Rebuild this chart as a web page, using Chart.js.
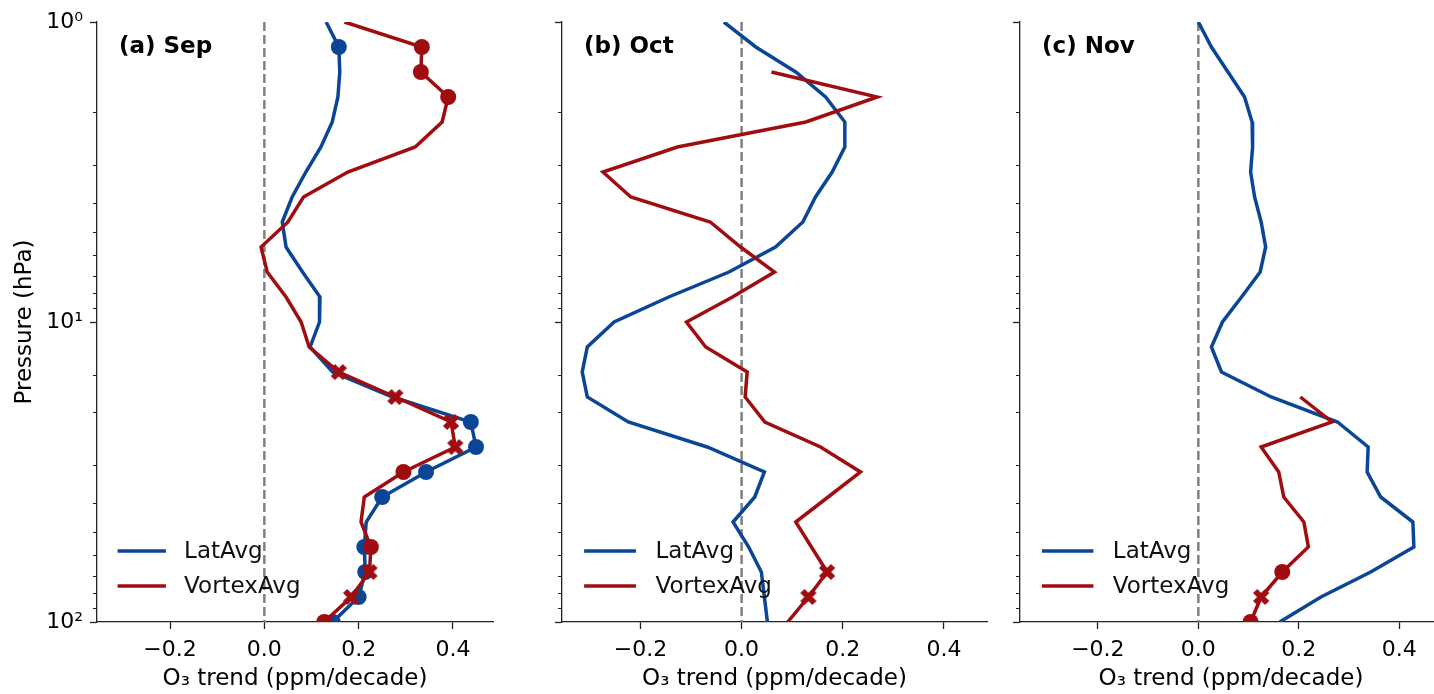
<!DOCTYPE html>
<html>
<head>
<meta charset="utf-8">
<script src="https://cdn.jsdelivr.net/npm/chart.js@4.4.1/dist/chart.umd.min.js"></script>
<style>
  html, body { margin: 0; padding: 0; background: #fff; overflow: hidden; width: 1434px; height: 694px; }
  canvas { position: absolute; top: 0; }
</style>
</head>
<body>
<canvas id="panelA" style="left:0px"></canvas>
<canvas id="panelB" style="left:520px"></canvas>
<canvas id="panelC" style="left:990px"></canvas>
<script>
// pressure levels (hPa), 12 per decade
const pressure = [1, 1.2115, 1.4678, 1.7783, 2.1544, 2.6102, 3.1623, 3.8312, 4.6416, 5.6234, 6.8129, 8.2540,
  10, 12.115, 14.678, 17.783, 21.544, 26.102, 31.623, 38.312, 46.416, 56.234, 68.129, 82.540, 100];

// O3 trend (ppm/decade)
const sepLat = [0.131, 0.158, 0.160, 0.156, 0.144, 0.120, 0.088, 0.059, 0.038, 0.046, 0.081, 0.118, 0.117,
  0.097, 0.145, 0.272, 0.438, 0.449, 0.343, 0.250, 0.216, 0.212, 0.214, 0.200, 0.145];
const sepVortex = [0.170, 0.334, 0.332, 0.390, 0.377, 0.320, 0.177, 0.083, 0.050, -0.007, 0.006, 0.046, 0.078,
  0.095, 0.158, 0.278, 0.396, 0.405, 0.295, 0.212, 0.205, 0.226, 0.223, 0.184, 0.127];
const octLat = [-0.035, 0.028, 0.107, 0.166, 0.204, 0.204, 0.179, 0.146, 0.121, 0.067, -0.025, -0.144, -0.252,
  -0.305, -0.315, -0.305, -0.224, -0.068, 0.045, 0.026, -0.017, 0.014, 0.039, 0.045, 0.051];
const octVortex = [null, null, 0.059, 0.268, 0.127, -0.127, -0.274, -0.219, -0.062, -0.002, 0.065, -0.018, -0.109,
  -0.071, 0.011, 0.007, 0.046, 0.156, 0.235, 0.171, 0.107, 0.138, 0.169, 0.132, 0.091];
const novLat = [0.000, 0.026, 0.059, 0.092, 0.107, 0.108, 0.104, 0.112, 0.125, 0.134, 0.123, 0.086, 0.048,
  0.026, 0.046, 0.145, 0.277, 0.338, 0.336, 0.363, 0.427, 0.429, 0.343, 0.244, 0.162];
const novVortex = [null, null, null, null, null, null, null, null, null, null, null, null, null,
  null, null, 0.203, 0.266, 0.125, 0.160, 0.170, 0.210, 0.219, 0.167, 0.125, 0.104];

// significance flags: 0 none, 1 cross, 2 dot
const sepLatSig = [0, 2, 0, 0, 0, 0, 0, 0, 0, 0, 0, 0, 0, 0, 0, 0, 2, 2, 2, 2, 0, 2, 2, 2, 2];
const sepVortexSig = [0, 2, 2, 2, 0, 0, 0, 0, 0, 0, 0, 0, 0, 0, 1, 1, 1, 1, 2, 0, 0, 2, 1, 1, 2];
const octLatSig = [0, 0, 0, 0, 0, 0, 0, 0, 0, 0, 0, 0, 0, 0, 0, 0, 0, 0, 0, 0, 0, 0, 0, 0, 0];
const octVortexSig = [0, 0, 0, 0, 0, 0, 0, 0, 0, 0, 0, 0, 0, 0, 0, 0, 0, 0, 0, 0, 0, 0, 1, 1, 0];
const novLatSig = [0, 0, 0, 0, 0, 0, 0, 0, 0, 0, 0, 0, 0, 0, 0, 0, 0, 0, 0, 0, 0, 0, 0, 0, 0];
const novVortexSig = [0, 0, 0, 0, 0, 0, 0, 0, 0, 0, 0, 0, 0, 0, 0, 0, 0, 0, 0, 0, 0, 0, 2, 1, 2];

const xTicks = [-0.2, 0, 0.2, 0.4];
const seriesNames = ['LatAvg', 'VortexAvg'];

const BLUE = '#0b4595';
const RED = '#a00d10';
const AXIS = '#222';
const FONT = '"DejaVu Sans", sans-serif';

function isDecade(v) {
  const e = Math.log10(v);
  return Math.abs(e - Math.round(e)) < 1e-9;
}

function crossMarker(color) {
  const c = document.createElement('canvas');
  c.width = 18; c.height = 18;
  const g = c.getContext('2d');
  g.strokeStyle = color;
  g.lineWidth = 6;
  g.beginPath();
  g.moveTo(3, 3); g.lineTo(15, 15);
  g.moveTo(15, 3); g.lineTo(3, 15);
  g.stroke();
  return c;
}

function series(label, values, sig, color, order) {
  const cross = crossMarker(color);
  return {
    label: label,
    data: values.map((v, i) => ({ x: v, y: pressure[i] })),
    borderColor: color,
    backgroundColor: color,
    borderWidth: 3.5,
    order: order,
    pointStyle: ctx => sig[ctx.dataIndex] === 1 ? cross : 'circle',
    pointRadius: ctx => sig[ctx.dataIndex] ? 8 : 0,
    pointBorderWidth: 0,
    spanGaps: false
  };
}

// small log ticks, shorter than the decade ticks
const minorTicks = {
  id: 'minorTicks',
  afterDraw(chart) {
    const s = chart.scales.y, g = chart.ctx;
    g.save();
    g.strokeStyle = AXIS;
    g.lineWidth = 1;
    s.ticks.forEach(t => {
      if (isDecade(t.value)) return;
      const py = Math.round(s.getPixelForValue(t.value)) + 0.5;
      g.beginPath(); g.moveTo(s.right - 4, py); g.lineTo(s.right, py); g.stroke();
    });
    g.restore();
  }
};

// panel label and legend inside the axes
const panelDecor = {
  id: 'panelDecor',
  afterDatasetsDraw(chart, args, opts) {
    const { left, right, top, bottom } = chart.chartArea;
    const w = right - left, g = chart.ctx;
    g.save();
    g.textBaseline = 'middle';
    g.fillStyle = '#000';
    g.font = 'bold 23px ' + FONT;
    g.fillText(opts.label, left + 22, top + 25);
    g.font = '23px ' + FONT;
    chart.data.datasets.filter(d => seriesNames.includes(d.label)).forEach((d, i) => {
      const ly = bottom - 71 + i * 35;
      g.strokeStyle = d.borderColor;
      g.lineWidth = 3.5;
      g.beginPath(); g.moveTo(left + 0.052 * w, ly); g.lineTo(left + 0.174 * w, ly); g.stroke();
      g.fillStyle = '#111';
      g.fillText(d.label, left + 0.22 * w, ly + 1);
    });
    g.restore();
  }
};

function makePanel(id, cfg) {
  const canvas = document.getElementById(id);
  canvas.width = cfg.width;
  canvas.height = 694;
  const sup = ['\u2070', '\u00b9', '\u00b2'];
  return new Chart(canvas, {
    type: 'line',
    data: {
      datasets: [
        series(seriesNames[0], cfg.lat, cfg.latSig, BLUE, 1),
        series(seriesNames[1], cfg.vortex, cfg.vortexSig, RED, 0),
        {
          label: 'zero',
          data: [{ x: 0, y: 1 }, { x: 0, y: 100 }],
          borderColor: '#808080',
          borderWidth: 2.5,
          borderDash: [9, 4],
          pointRadius: 0,
          order: 2
        }
      ]
    },
    options: {
      responsive: false,
      animation: false,
      events: [],
      indexAxis: 'y',
      layout: { padding: { top: 22, right: cfg.padRight, left: 0, bottom: 0 } },
      plugins: {
        legend: { display: false },
        tooltip: { enabled: false },
        panelDecor: { label: cfg.label }
      },
      scales: {
        x: {
          type: 'linear',
          min: -0.355,
          max: 0.485,
          afterBuildTicks: s => { s.ticks = xTicks.map(v => ({ value: v })); },
          afterFit: s => { s.height = 72; },
          border: { display: true, color: AXIS, width: 1.3 },
          grid: { drawOnChartArea: false, drawTicks: true, tickLength: 7, tickColor: AXIS, tickWidth: 1.3 },
          ticks: {
            autoSkip: false, maxRotation: 0, padding: 8, color: '#000',
            font: { family: FONT, size: 22 },
            callback: v => (v < 0 ? '\u2212' : '') + Math.abs(v).toFixed(1)
          },
          title: {
            display: true, text: 'O\u2083 trend (ppm/decade)', color: '#000',
            font: { family: FONT, size: 23 }, padding: { top: 0, bottom: 1 }
          }
        },
        y: {
          type: 'logarithmic',
          min: 1,
          max: 100,
          reverse: true,
          afterFit: s => { s.width = cfg.yWidth; },
          border: { display: true, color: AXIS, width: 1.3 },
          grid: {
            drawOnChartArea: false, drawTicks: true, tickLength: 7, tickWidth: 1.3,
            tickColor: ctx => ctx.tick && isDecade(ctx.tick.value) ? AXIS : 'rgba(0,0,0,0)'
          },
          ticks: {
            autoSkip: false, padding: 7, color: '#000',
            font: { family: FONT, size: 22 },
            callback: v => cfg.yLabels && isDecade(v) ? '10' + sup[Math.round(Math.log10(v))] : ''
          },
          title: {
            display: cfg.yLabels, text: 'Pressure (hPa)', color: '#000',
            font: { family: FONT, size: 23 }, padding: { top: 11, bottom: 0 }
          }
        }
      }
    },
    plugins: [minorTicks, panelDecor]
  });
}

makePanel('panelA', { width: 520, yWidth: 97, padRight: 27, yLabels: true, label: '(a) Sep',
  lat: sepLat, latSig: sepLatSig, vortex: sepVortex, vortexSig: sepVortexSig });
makePanel('panelB', { width: 470, yWidth: 42, padRight: 3, yLabels: false, label: '(b) Oct',
  lat: octLat, latSig: octLatSig, vortex: octVortex, vortexSig: octVortexSig });
makePanel('panelC', { width: 460, yWidth: 30, padRight: 6, yLabels: false, label: '(c) Nov',
  lat: novLat, latSig: novLatSig, vortex: novVortex, vortexSig: novVortexSig });
</script>
</body>
</html>
